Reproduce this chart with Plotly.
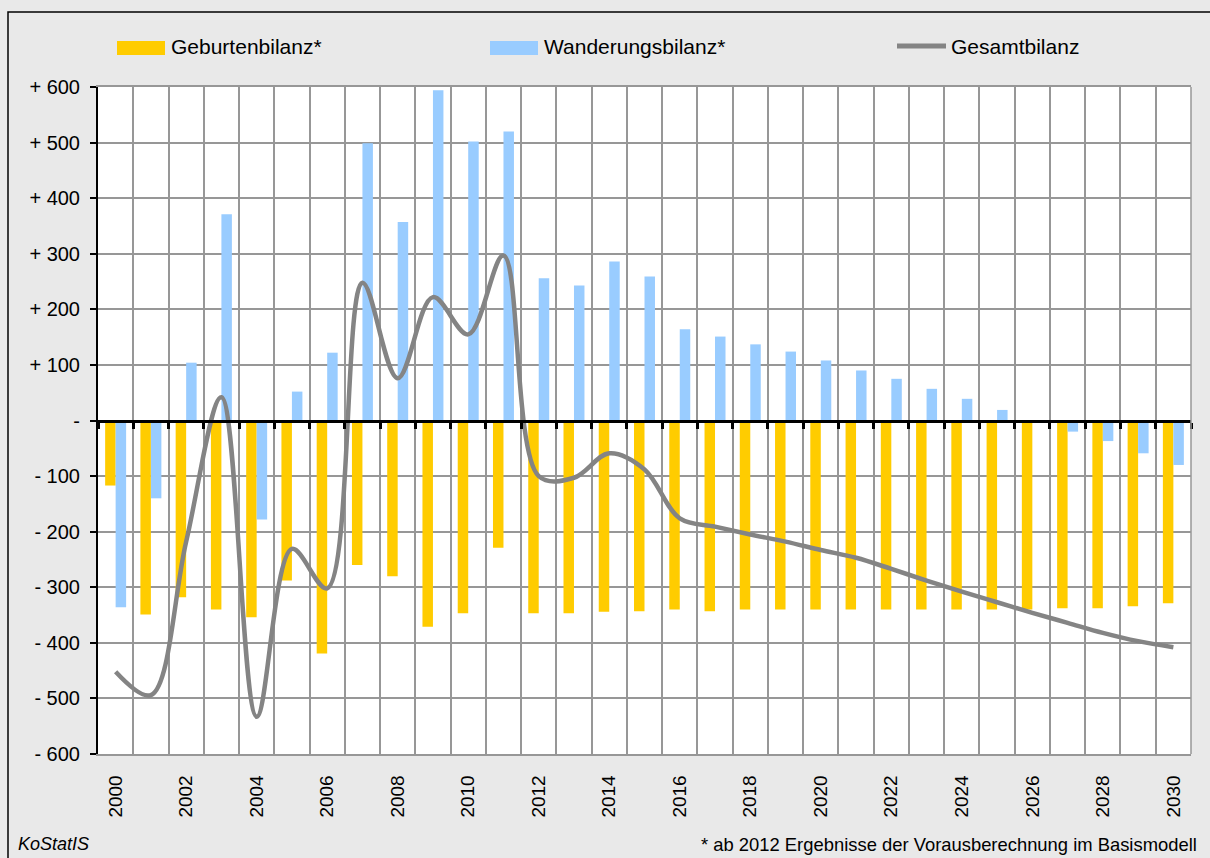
import plotly.graph_objects as go

# ---- data -------------------------------------------------------------
years = list(range(2000, 2031))

geburtenbilanz = [
    -117, -349, -318, -340, -354, -288, -419, -260, -280, -371,
    -347, -229, -347, -347, -344, -343, -340, -343, -340, -340,
    -340, -340, -340, -340, -340, -340, -340, -338, -338, -334,
    -329,
]

wanderungsbilanz = [
    -336, -140, 104, 371, -178, 52, 122, 499, 357, 594,
    502, 520, 256, 243, 286, 259, 164, 151, 137, 124,
    108, 90, 75, 57, 39, 19, 0, -20, -37, -59,
    -80,
]

gesamtbilanz = [
    -452, -494, -218, 42, -533, -231, -302, 248, 76, 222,
    155, 297, -100, -103, -59, -88, -176, -191, -205, -218,
    -233, -247, -267, -288, -308, -327, -346, -364, -382, -397,
    -408,
]

y_tick_vals = [600, 500, 400, 300, 200, 100, 0, -100, -200, -300, -400, -500, -600]
y_tick_text = ["+ 600", "+ 500", "+ 400", "+ 300", "+ 200", "+ 100", "-",
               "- 100", "- 200", "- 300", "- 400", "- 500", "- 600"]

x_tick_vals = years[::2]
x_tick_text = [str(y) for y in x_tick_vals]

# category boundaries (for the vertical grid and the ticks on the zero line)
boundaries = [y - 0.5 for y in years] + [years[-1] + 0.5]

# ---- styling ----------------------------------------------------------
YELLOW = "#FFCC00"
BLUE = "#99CCFF"
LINE_GRAY = "#848484"
GRID = "#979797"
BG = "#e9e9e9"
FONT = "Liberation Sans, Arial, sans-serif"

W, H = 1210, 858
L, R, T, B = 98, 19, 87, 104
PW, PH = W - L - R, H - T - B


def px_x(px):
    return (px - L) / PW


def px_y(py):
    return (H - B - py) / PH


fig = go.Figure()

fig.add_trace(go.Bar(
    x=years, y=geburtenbilanz, name="Geburtenbilanz*",
    marker=dict(color=YELLOW, line=dict(width=0)),
))
fig.add_trace(go.Bar(
    x=years, y=wanderungsbilanz, name="Wanderungsbilanz*",
    marker=dict(color=BLUE, line=dict(width=0)),
))
fig.add_trace(go.Scatter(
    x=years, y=gesamtbilanz, name="Gesamtbilanz",
    mode="lines", line=dict(color=LINE_GRAY, width=4.5, shape="spline", smoothing=1.0),
    xaxis="x2", yaxis="y",
))

fig.update_layout(
    width=W, height=H,
    margin=dict(l=L, r=R, t=T, b=B, pad=0),
    paper_bgcolor=BG, plot_bgcolor="white",
    barmode="group", bargap=0.405, bargroupgap=0,
    showlegend=False,
    font=dict(family=FONT, color="black", size=19),
    xaxis=dict(
        range=[1999.5, 2030.5], type="linear",
        tickvals=x_tick_vals, ticktext=x_tick_text,
        tickangle=-90, ticks="", ticklabelstandoff=12,
        tickfont=dict(size=19),
        showgrid=False, zeroline=False,
        showline=True, linecolor=GRID, linewidth=1.5, mirror=True,
        minor=dict(tickvals=boundaries, showgrid=True, gridcolor=GRID,
                   gridwidth=1.5, ticks=""),
    ),
    xaxis2=dict(
        range=[1999.5, 2030.5], type="linear", overlaying="x",
        anchor="free", position=0.5,
        tickvals=boundaries, ticks="outside", ticklen=6, tickwidth=3,
        tickcolor="black", showticklabels=False,
        showgrid=False, zeroline=False,
        showline=True, linecolor="black", linewidth=3,
    ),
    yaxis=dict(
        range=[-600, 600], tickvals=y_tick_vals, ticktext=y_tick_text,
        ticks="outside", ticklen=6, tickwidth=1.5, tickcolor="black",
        ticklabelstandoff=6, tickfont=dict(size=20),
        showgrid=True, gridcolor=GRID, gridwidth=1.5,
        zeroline=False,
        showline=True, linecolor="black", linewidth=2,
    ),
)

# vertical gray frame on the right edge of the plot area
fig.add_shape(type="line", xref="paper", yref="paper", x0=1, x1=1, y0=0, y1=1,
              line=dict(color=GRID, width=1.5))

# outer black frame
fig.add_shape(type="rect", xref="paper", yref="paper", layer="below",
              x0=px_x(8), x1=px_x(1230), y0=px_y(12), y1=px_y(880),
              line=dict(color="black", width=1.5), fillcolor="rgba(0,0,0,0)")

# legend
legend_y = px_y(47)
fig.add_shape(type="rect", xref="paper", yref="paper",
              x0=px_x(117), x1=px_x(165), y0=px_y(55), y1=px_y(41),
              line=dict(width=0), fillcolor=YELLOW)
fig.add_shape(type="rect", xref="paper", yref="paper",
              x0=px_x(490), x1=px_x(538), y0=px_y(55), y1=px_y(41),
              line=dict(width=0), fillcolor=BLUE)
fig.add_shape(type="line", xref="paper", yref="paper",
              x0=px_x(897), x1=px_x(946), y0=px_y(46), y1=px_y(46),
              line=dict(color=LINE_GRAY, width=5))
for text, xpx in [("Geburtenbilanz*", 169), ("Wanderungsbilanz*", 542), ("Gesamtbilanz", 949)]:
    fig.add_annotation(text=text, xref="paper", yref="paper", x=px_x(xpx), y=legend_y,
                       xanchor="left", yanchor="middle", showarrow=False,
                       font=dict(size=21, family=FONT, color="black"))

# footer
fig.add_annotation(text="<i>KoStatIS</i>", xref="paper", yref="paper",
                   x=px_x(16), y=px_y(844), xanchor="left", yanchor="middle",
                   showarrow=False, font=dict(size=18, family=FONT, color="black"))
fig.add_annotation(text="* ab 2012 Ergebnisse der Vorausberechnung im Basismodell",
                   xref="paper", yref="paper", x=px_x(1199), y=px_y(844),
                   xanchor="right", yanchor="middle", showarrow=False,
                   font=dict(size=18.4, family=FONT, color="black"))

fig.write_html("out.html")
